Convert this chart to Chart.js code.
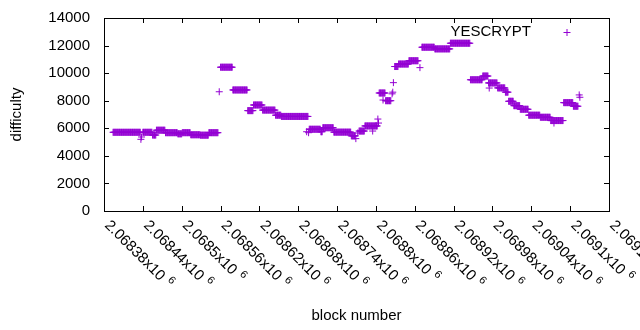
<!DOCTYPE html>
<html>
<head>
<meta charset="utf-8">
<script src="https://cdn.jsdelivr.net/npm/chart.js@4"></script>
<style>
  html, body { margin: 0; padding: 0; background: #fff; }
  #wrap { width: 640px; height: 330px; }
</style>
</head>
<body>
<div id="wrap"><canvas id="diffChart" width="640" height="330"></canvas></div>
<script>
// difficulty holds steady for stretches of blocks: each run is [start, end] at one value
const runStart = [2068394, 2068440, 2068455, 2068461, 2068475, 2068494, 2068501, 2068514, 2068529, 2068542,
    2068560, 2068579, 2068602, 2068611, 2068625, 2068645, 2068654, 2068697, 2068715, 2068718,
    2068735, 2068762, 2068774, 2068783, 2068805, 2068815, 2068829, 2068835, 2068851, 2068871,
    2068891, 2068915, 2068946, 2068965, 2068974, 2068988, 2069000, 2069005, 2069013, 2069023,
    2069036, 2069054, 2069070, 2069090, 2069105];
const runEnd = [2068436, 2068454, 2068460, 2068474, 2068493, 2068500, 2068513, 2068528, 2068541, 2068556,
    2068578, 2068601, 2068610, 2068624, 2068644, 2068653, 2068695, 2068714, 2068717, 2068734,
    2068761, 2068768, 2068782, 2068802, 2068814, 2068823, 2068834, 2068850, 2068865, 2068890,
    2068914, 2068945, 2068964, 2068973, 2068987, 2068999, 2069004, 2069012, 2069022, 2069035,
    2069053, 2069069, 2069089, 2069104, 2069112];
const runDifficulty = [5710, 5710, 5510, 5860, 5680, 5600, 5680, 5530, 5500, 5680,
    10430, 8780, 7280, 7690, 7320, 6950, 6860, 5930, 5750, 6040,
    5720, 5450, 5800, 6170, 8560, 8000, 10480, 10660, 10900, 11880,
    11760, 12170, 9520, 9790, 9290, 8930, 8620, 7960, 7640, 7380,
    6950, 6800, 6560, 7860, 7600];

// odd blocks that sit off the runs
const singleBlock = [2068437, 2068438, 2068558, 2068693, 2068696, 2068769, 2068772, 2068795, 2068803, 2068804,
    2068811, 2068825, 2068826, 2068827, 2068868, 2068975, 2069075, 2069114, 2069115];
const singleDifficulty = [5200, 5370, 8650, 5750, 5680, 5250, 5660, 5800, 6670, 6380,
    8050, 8500, 8620, 9310, 10400, 8920, 6380, 8420, 8250];

const xTickValues = [2068380, 2068440, 2068500, 2068560, 2068620, 2068680, 2068740,
    2068800, 2068860, 2068920, 2068980, 2069040, 2069100, 2069160];
const xTickLabels = ['2.06838x10', '2.06844x10', '2.0685x10', '2.06856x10', '2.06862x10', '2.06868x10', '2.06874x10',
    '2.0688x10', '2.06886x10', '2.06892x10', '2.06898x10', '2.06904x10', '2.0691x10', '2.06916x10'];
const yTickValues = [0, 2000, 4000, 6000, 8000, 10000, 12000, 14000];

const points = [];
runStart.forEach((s, i) => {
    for (let b = s; b <= runEnd[i]; b++) points.push({x: b, y: runDifficulty[i]});
});
singleBlock.forEach((b, i) => points.push({x: b, y: singleDifficulty[i]}));

const purple = '#9400d3';
const fontFamily = '"Liberation Sans", Arial, sans-serif';

// gnuplot style frame: full border, inward ticks, slanted x labels, key top right
const frame = {
    id: 'frame',
    afterDraw(chart) {
        const {ctx, chartArea: a, scales} = chart;
        ctx.save();
        ctx.strokeStyle = '#000';
        ctx.lineWidth = 1;
        ctx.strokeRect(Math.round(a.left) + 0.5, Math.round(a.top) + 0.5,
            Math.round(a.right - a.left), Math.round(a.bottom - a.top));
        ctx.beginPath();
        xTickValues.forEach(v => {
            const x = Math.round(scales.x.getPixelForValue(v)) + 0.5;
            ctx.moveTo(x, a.bottom); ctx.lineTo(x, a.bottom - 5);
            ctx.moveTo(x, a.top); ctx.lineTo(x, a.top + 5);
        });
        yTickValues.forEach(v => {
            const y = Math.round(scales.y.getPixelForValue(v)) + 0.5;
            ctx.moveTo(a.left, y); ctx.lineTo(a.left + 5, y);
            ctx.moveTo(a.right, y); ctx.lineTo(a.right - 5, y);
        });
        ctx.stroke();

        ctx.fillStyle = '#000';
        xTickValues.forEach((v, i) => {
            const x = scales.x.getPixelForValue(v);
            ctx.save();
            ctx.translate(x + 3, a.bottom + 12);
            ctx.rotate(Math.PI / 4);
            ctx.font = '15px ' + fontFamily;
            ctx.textAlign = 'left';
            ctx.textBaseline = 'middle';
            ctx.fillText(xTickLabels[i], 0, 0);
            const w = ctx.measureText(xTickLabels[i]).width;
            ctx.font = '11px ' + fontFamily;
            ctx.fillText('6', w + 5, -5);
            ctx.restore();
        });

        ctx.font = '15px ' + fontFamily;
        ctx.textAlign = 'right';
        ctx.textBaseline = 'middle';
        ctx.fillText('YESCRYPT', 531, 32);
        ctx.strokeStyle = purple;
        ctx.beginPath();
        ctx.moveTo(563.5, 32.5); ctx.lineTo(570.5, 32.5);
        ctx.moveTo(567, 29); ctx.lineTo(567, 36);
        ctx.stroke();
        ctx.restore();
    }
};

new Chart(document.getElementById('diffChart'), {
    type: 'scatter',
    data: {
        datasets: [{
            label: 'YESCRYPT',
            data: points,
            pointStyle: 'cross',
            pointRadius: 3.5,
            borderColor: purple,
            backgroundColor: purple,
            borderWidth: 1
        }]
    },
    options: {
        responsive: false,
        animation: false,
        events: [],
        layout: {padding: {left: 0, right: 31, top: 18, bottom: 0}},
        plugins: {legend: {display: false}, tooltip: {enabled: false}},
        scales: {
            x: {
                type: 'linear',
                min: 2068380,
                max: 2069160,
                grid: {display: false, drawTicks: false},
                border: {display: false},
                ticks: {display: false},
                title: {display: true, text: 'block number', color: '#000',
                    font: {family: fontFamily, size: 15}, padding: {top: 0, bottom: 5}},
                afterFit: s => { s.height = 119; s.paddingLeft = 0; s.paddingRight = 0; }
            },
            y: {
                min: 0,
                max: 14000,
                grid: {display: false, drawTicks: false},
                border: {display: false},
                ticks: {stepSize: 2000, padding: 14, color: '#000',
                    font: {family: fontFamily, size: 15},
                    callback: v => String(v)},
                title: {display: true, text: 'difficulty', color: '#000',
                    font: {family: fontFamily, size: 15}, padding: {top: 8, bottom: 0}},
                afterFit: s => { s.width = 104; s.paddingTop = 0; s.paddingBottom = 0; }
            }
        }
    },
    plugins: [frame]
});
</script>
</body>
</html>
